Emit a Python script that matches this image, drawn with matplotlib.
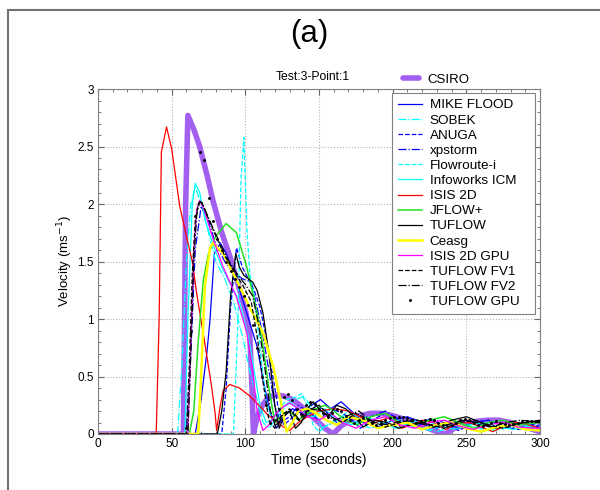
import numpy as np
import matplotlib
matplotlib.use('Agg')
import matplotlib.pyplot as plt
from matplotlib.ticker import MultipleLocator, FuncFormatter
from matplotlib.patches import Rectangle

plt.rcParams['font.family'] = ['Liberation Sans', 'DejaVu Sans']

# CSIRO (thick purple)
t_csiro = [0, 58, 59.5, 61, 65, 69, 74, 78, 84, 89.6, 94, 97.5, 100.5, 103, 104.5, 105.5, 108, 112, 116, 121, 126,
           132, 140, 148, 154, 159.5, 165, 172, 178, 185, 192, 200, 210, 220, 228, 235.5, 242, 250, 257, 264, 272,
           280, 290, 300]
v_csiro = [0, 0, 2.0, 2.77, 2.65, 2.5, 2.25, 2.03, 1.75, 1.54, 1.35, 1.19, 1.05, 0.88, 0.4, 0, 0.15, 0.26, 0.32, 0.34,
           0.33, 0.3, 0.22, 0.12, 0.05, 0, 0.07, 0.13, 0.16, 0.18, 0.18, 0.16, 0.12, 0.07, 0.03, 0, 0.05, 0.09, 0.11,
           0.12, 0.12, 0.1, 0.06, 0.02]

t_mike = [0, 66, 70, 74, 76, 79, 83, 87, 94, 101, 108, 112, 117, 121, 126, 132, 138, 145, 151, 158, 165, 172, 180,
          190, 200, 210, 220, 230, 240, 250, 260, 270, 280, 290, 300]
v_mike = [0, 0, 0.3, 0.72, 0.99, 1.57, 1.66, 1.57, 1.34, 1.05, 0.76, 0.47, 0.18, 0.05, 0.15, 0.22, 0.18, 0.25, 0.3,
          0.22, 0.28, 0.2, 0.1, 0.06, 0.12, 0.15, 0.1, 0.05, 0.1, 0.12, 0.08, 0.05, 0.1, 0.08, 0.06]

t_sobek = [0, 54, 57, 60, 63, 66, 70, 75, 80, 86, 92, 98, 103, 108, 112, 116, 122, 128, 134, 140, 146, 152, 160, 170,
           180, 190, 200, 210, 220, 230, 240, 250, 260, 270, 280, 290, 300]
v_sobek = [0, 0, 0.6, 1.5, 2.0, 2.15, 2.0, 1.75, 1.5, 1.35, 1.15, 0.85, 0.55, 0.3, 0.1, 0.05, 0.15, 0.25, 0.3, 0.33,
           0.2, 0.05, 0.1, 0.2, 0.12, 0.05, 0.08, 0.1, 0.05, 0.02, 0.06, 0.08, 0.05, 0.03, 0.06, 0.07, 0.05]

t_anuga = [0, 84, 87, 90, 94, 98, 102, 106, 110, 114, 118, 122, 126, 130, 136, 142, 148, 155, 162, 170, 178, 186,
           195, 205, 215, 225, 235, 245, 255, 265, 275, 285, 300]
v_anuga = [0, 0, 0.4, 1.1, 1.62, 1.45, 1.35, 1.25, 1.1, 0.85, 0.55, 0.25, 0.08, 0.12, 0.2, 0.15, 0.25, 0.2, 0.1,
           0.15, 0.05, 0.12, 0.18, 0.1, 0.06, 0.12, 0.08, 0.03, 0.1, 0.12, 0.06, 0.04, 0.08]

t_xp = [0, 60, 63, 66, 70, 75, 80, 86, 92, 98, 104, 108, 112, 116, 120, 124, 130, 136, 142, 150, 158, 166, 175, 185,
        195, 205, 215, 225, 235, 245, 255, 265, 275, 285, 300]
v_xp = [0, 0, 0.7, 1.6, 1.98, 1.85, 1.65, 1.5, 1.4, 1.35, 1.32, 1.1, 0.85, 0.55, 0.25, 0.1, 0.15, 0.25, 0.2, 0.12,
        0.22, 0.18, 0.1, 0.15, 0.2, 0.12, 0.08, 0.13, 0.1, 0.05, 0.1, 0.12, 0.07, 0.05, 0.1]

t_flow = [0, 92, 95, 97, 99, 101, 103, 106, 110, 114, 118, 122, 128, 134, 138, 142, 146, 150, 158, 166, 175, 185,
          195, 205, 215, 225, 235, 245, 255, 265, 275, 285, 300]
v_flow = [0, 0, 1.0, 2.2, 2.58, 1.8, 1.4, 1.2, 0.75, 0.3, 0.12, 0.2, 0.3, 0.32, 0.35, 0.25, 0.08, 0.02, 0.1, 0.15,
          0.1, 0.05, 0.1, 0.12, 0.06, 0.03, 0.08, 0.1, 0.06, 0.03, 0.07, 0.09, 0.05]

t_info = [0, 59, 61, 64, 66, 69, 73, 78, 84, 90, 96, 102, 106, 110, 114, 118, 124, 130, 138, 146, 154, 162, 172,
          182, 192, 202, 212, 222, 232, 242, 252, 262, 272, 282, 292, 300]
v_info = [0, 0, 1.0, 2.0, 2.18, 2.1, 1.85, 1.65, 1.45, 1.3, 1.15, 0.85, 0.55, 0.25, 0.1, 0.12, 0.22, 0.28, 0.2,
          0.15, 0.22, 0.12, 0.08, 0.15, 0.1, 0.05, 0.1, 0.12, 0.07, 0.04, 0.08, 0.1, 0.06, 0.04, 0.07, 0.05]

t_isis = [0, 39.5, 41.5, 43, 46.5, 50, 55.5, 60, 64, 67, 72.5, 77, 79.5, 80.5, 83, 85, 89.5, 96, 103, 110, 115, 121,
          126, 130, 136, 142, 150, 160, 170, 178, 185, 192, 200, 206, 213, 220, 228, 236, 244, 252, 260, 268, 276,
          284, 292, 300]
v_isis = [0, 0, 1.0, 2.45, 2.67, 2.48, 1.98, 1.72, 1.5, 1.22, 0.79, 0.42, 0.18, 0.03, 0.25, 0.38, 0.43, 0.4, 0.33,
          0.24, 0.17, 0.11, 0.06, 0.03, 0.1, 0.15, 0.2, 0.22, 0.2, 0.15, 0.08, 0.12, 0.15, 0.05, 0.08, 0.12, 0.1,
          0.04, 0.09, 0.1, 0.06, 0.02, 0.07, 0.1, 0.08, 0.05]

t_jflow = [0, 62, 65, 68, 71.5, 75, 80, 87, 94, 101, 108, 112, 116, 120, 124, 130, 136, 142, 148, 154, 160, 168,
           176, 185, 195, 205, 215, 225, 235, 245, 255, 265, 275, 285, 300]
v_jflow = [0, 0, 0.2, 0.8, 1.34, 1.57, 1.72, 1.83, 1.75, 1.45, 1.05, 0.76, 0.4, 0.1, 0.15, 0.2, 0.12, 0.18, 0.22,
           0.25, 0.2, 0.12, 0.08, 0.15, 0.18, 0.1, 0.08, 0.12, 0.15, 0.1, 0.05, 0.1, 0.12, 0.08, 0.1]

t_tuflow = [0, 81, 84, 87, 90, 93.5, 96, 99, 102, 105, 108, 112, 116, 120, 123, 126, 130, 134, 138, 142, 146, 150,
            156, 162, 168, 174, 180, 188, 196, 204, 212, 220, 230, 240, 250, 260, 270, 280, 290, 300]
v_tuflow = [0, 0, 0.2, 0.55, 1.2, 1.57, 1.45, 1.38, 1.35, 1.32, 1.25, 1.05, 0.7, 0.25, 0.05, 0.15, 0.2, 0.05, 0.1,
            0.22, 0.28, 0.22, 0.15, 0.25, 0.22, 0.15, 0.06, 0.12, 0.1, 0.05, 0.08, 0.1, 0.07, 0.12, 0.15, 0.1, 0.05,
            0.08, 0.1, 0.12]

t_ceasg = [0, 68, 70, 72.5, 76, 78, 85, 94, 103, 112, 119, 124.7, 128, 132, 136, 142, 148, 155, 162, 170, 180, 190,
           200, 210, 220, 230, 240, 250, 260, 270, 280, 290, 300]
v_ceasg = [0, 0, 0.5, 1.28, 1.62, 1.66, 1.57, 1.34, 1.1, 0.88, 0.58, 0.24, 0.02, 0.1, 0.2, 0.22, 0.18, 0.12, 0.08,
           0.15, 0.12, 0.05, 0.08, 0.1, 0.04, 0.08, 0.1, 0.05, 0.02, 0.06, 0.08, 0.04, 0.03]

t_isisgpu = [0, 61, 63, 65, 67, 69, 72, 78, 85, 94, 101, 105, 108, 112, 116, 121, 126, 130, 136, 142, 150, 158, 166,
             175, 185, 195, 205, 215, 225, 235, 245, 255, 265, 275, 285, 300]
v_isisgpu = [0, 0, 0.8, 1.6, 1.95, 2.03, 1.95, 1.7, 1.45, 1.19, 0.88, 0.55, 0.2, 0.03, 0.08, 0.18, 0.24, 0.27, 0.22,
             0.15, 0.12, 0.18, 0.1, 0.05, 0.12, 0.15, 0.08, 0.05, 0.1, 0.12, 0.07, 0.04, 0.08, 0.1, 0.06, 0.05]

t_fv1 = [0, 60, 62, 64, 66, 68, 70, 74, 80, 86, 92, 98, 104, 108, 112, 116, 120, 124, 130, 136, 142, 150, 158, 166,
         175, 185, 195, 205, 215, 225, 235, 245, 255, 265, 275, 285, 300]
v_fv1 = [0, 0, 0.6, 1.4, 1.85, 2.0, 2.03, 1.9, 1.72, 1.55, 1.42, 1.3, 1.15, 0.85, 0.45, 0.12, 0.05, 0.15, 0.22, 0.12,
         0.2, 0.25, 0.15, 0.1, 0.18, 0.12, 0.06, 0.1, 0.13, 0.08, 0.05, 0.1, 0.12, 0.08, 0.05, 0.09, 0.11]

t_fv2 = [0, 61, 63, 65, 67, 69, 71, 76, 82, 88, 94, 100, 105, 109, 113, 117, 121, 126, 132, 138, 144, 152, 160, 168,
         177, 187, 197, 207, 217, 227, 237, 247, 257, 267, 277, 287, 300]
v_fv2 = [0, 0, 0.7, 1.5, 1.9, 2.02, 2.0, 1.85, 1.68, 1.52, 1.4, 1.3, 1.2, 0.95, 0.6, 0.2, 0.05, 0.18, 0.2, 0.1, 0.22,
         0.2, 0.12, 0.15, 0.2, 0.1, 0.08, 0.12, 0.1, 0.06, 0.08, 0.12, 0.1, 0.06, 0.1, 0.12, 0.1]

# TUFLOW GPU, sampled every 3 s
t_gpu = np.arange(0, 301, 3)
v_gpu = [0, 0, 0, 0, 0, 0, 0, 0, 0, 0,
         0, 0, 0, 0, 0, 0, 0, 0, 0, 0,
         0.05, 0.9, 1.9, 2.45, 2.38, 2.05, 1.85, 1.7, 1.6, 1.5,
         1.42, 1.35, 1.28, 1.2, 1.12, 0.95, 0.75, 0.5, 0.25, 0.1,
         0.12, 0.22, 0.32, 0.35, 0.3, 0.22, 0.17, 0.25, 0.28, 0.26,
         0.22, 0.18, 0.15, 0.18, 0.22, 0.2, 0.16, 0.12, 0.1, 0.12,
         0.14, 0.12, 0.1, 0.08, 0.1, 0.12, 0.14, 0.15, 0.15, 0.15,
         0.14, 0.12, 0.1, 0.11, 0.12, 0.13, 0.12, 0.1, 0.08, 0.07,
         0.08, 0.1, 0.12, 0.13, 0.12, 0.1, 0.08, 0.07, 0.08, 0.1,
         0.11, 0.1, 0.09, 0.08, 0.09, 0.1, 0.11, 0.11, 0.11, 0.11,
         0.11]

fig = plt.figure(figsize=(6, 4.9), dpi=100)
ax = fig.add_axes([98/600, 1-434/490, 442/600, 345/490])

# outer frame
fig.patches.append(Rectangle((8/600, -0.2), 1.2, 0.2 + (1-10/490), transform=fig.transFigure,
                             fill=False, edgecolor='0.45', lw=1.5, clip_on=False))

csiro, = ax.plot(t_csiro, v_csiro, color='#a35ff0', lw=4, solid_capstyle='round', label='CSIRO')
models = [
    (t_mike, v_mike, '#0000ff', '-', 0.9, 'MIKE FLOOD'),
    (t_sobek, v_sobek, '#00ffff', '-.', 0.9, 'SOBEK'),
    (t_anuga, v_anuga, '#0000ff', '--', 0.9, 'ANUGA'),
    (t_xp, v_xp, '#0000ff', '-.', 0.9, 'xpstorm'),
    (t_flow, v_flow, '#00ffff', '--', 0.9, 'Flowroute-i'),
    (t_info, v_info, '#00ffff', '-', 0.9, 'Infoworks ICM'),
    (t_isis, v_isis, '#ff0000', '-', 0.9, 'ISIS 2D'),
    (t_jflow, v_jflow, '#22e022', '-', 1.1, 'JFLOW+'),
    (t_tuflow, v_tuflow, '#000000', '-', 0.9, 'TUFLOW'),
    (t_ceasg, v_ceasg, '#ffff00', '-', 1.8, 'Ceasg'),
    (t_isisgpu, v_isisgpu, '#ff00ff', '-', 0.9, 'ISIS 2D GPU'),
    (t_fv1, v_fv1, '#000000', '--', 0.9, 'TUFLOW FV1'),
    (t_fv2, v_fv2, '#000000', '-.', 0.9, 'TUFLOW FV2'),
]
handles = []
for tt, vv, c, ls, lw, name in models:
    h, = ax.plot(tt, vv, color=c, ls=ls, lw=lw, label=name)
    handles.append(h)
h, = ax.plot(t_gpu, v_gpu, 'k.', ms=2.2, label='TUFLOW GPU')
handles.append(h)

ax.set_xlim(0, 300)
ax.set_ylim(0, 3)
ax.xaxis.set_major_locator(MultipleLocator(50))
ax.xaxis.set_minor_locator(MultipleLocator(10))
ax.yaxis.set_major_locator(MultipleLocator(0.5))
ax.yaxis.set_minor_locator(MultipleLocator(0.1))
ax.yaxis.set_major_formatter(FuncFormatter(lambda v, p: '%g' % v))
ax.tick_params(which='both', direction='in', top=True, right=True, labelsize=8.5, color='0.4', pad=3)
ax.tick_params(which='major', length=4)
ax.tick_params(which='minor', length=2)
ax.grid(True, which='major', ls=':', color='0.7', lw=0.8)
for s in ax.spines.values():
    s.set_color('0.5')

ax.set_xlabel('Time (seconds)', fontsize=10, labelpad=2)
ax.set_ylabel('Velocity (ms$^{-1}$)', fontsize=9.5, labelpad=2)

fig.text(309/600, 1-34/490, '(a)', fontsize=22.5, ha='center', va='center')
fig.text(313/600, 1-77/490, 'Test:3-Point:1', fontsize=8.7, ha='center', va='center')

leg1 = fig.legend([csiro], ['CSIRO'], loc='center left', bbox_to_anchor=(403/600, 1-80/490), frameon=False,
                  fontsize=9.5, borderpad=0, borderaxespad=0, handlelength=1.25, handletextpad=0.6)
leg = ax.legend(handles=handles, loc='upper left', bbox_to_anchor=(294/442, 0.5, 143/442, 341/345 - 0.5),
                mode='expand', borderaxespad=0, fontsize=9.7, fancybox=False, framealpha=1, edgecolor='0.5',
                handlelength=1.75, labelspacing=0.2, borderpad=0.45, handletextpad=0.6)
leg.get_frame().set_linewidth(0.8)

fig.savefig('out.png', dpi=100)
